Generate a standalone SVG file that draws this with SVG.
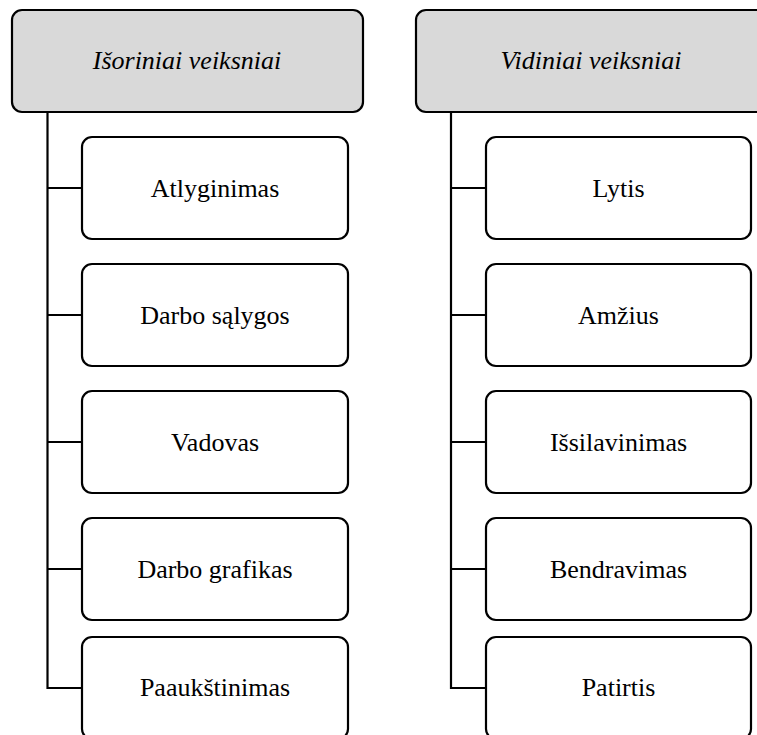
<svg xmlns="http://www.w3.org/2000/svg" width="757" height="735" viewBox="0 0 757 735">
<style>
.hdr{fill:#d9d9d9;stroke:#000;stroke-width:2.2}
.box{fill:#fff;stroke:#000;stroke-width:2.2}
.ht{font-family:"Liberation Serif","Times New Roman",serif;font-style:italic;font-size:26px;fill:#000;text-anchor:middle}
.bt{font-family:"Liberation Serif","Times New Roman",serif;font-size:26px;fill:#000;text-anchor:middle}
.ln{fill:none;stroke:#000;stroke-width:2.2}
</style>
<rect x="0" y="0" width="757" height="735" fill="#fff"/>
<g id="connectors">
<path class="ln" d="M47.5 112V688H82M47.5 188H82M47.5 315H82M47.5 442H82M47.5 569H82"/>
<path class="ln" d="M451 112V688H486M451 188H486M451 315H486M451 442H486M451 569H486"/>
</g>
<g id="h1"><rect class="hdr" x="12" y="10" width="351" height="102" rx="10"/><text class="ht" x="187" y="69">Išoriniai veiksniai</text></g>
<g id="h2"><rect class="hdr" x="416" y="10" width="351" height="102" rx="10"/><text class="ht" x="591" y="69">Vidiniai veiksniai</text></g>
<g id="l1"><rect class="box" x="82" y="137" width="266" height="102" rx="10"/><text class="bt" x="215" y="197">Atlyginimas</text></g>
<g id="l2"><rect class="box" x="82" y="264" width="266" height="102" rx="10"/><text class="bt" x="215" y="324">Darbo sąlygos</text></g>
<g id="l3"><rect class="box" x="82" y="391" width="266" height="102" rx="10"/><text class="bt" x="215" y="451">Vadovas</text></g>
<g id="l4"><rect class="box" x="82" y="518" width="266" height="102" rx="10"/><text class="bt" x="215" y="578">Darbo grafikas</text></g>
<g id="l5"><rect class="box" x="82" y="637" width="266" height="102" rx="10"/><text class="bt" x="215" y="696">Paaukštinimas</text></g>
<g id="r1"><rect class="box" x="486" y="137" width="265" height="102" rx="10"/><text class="bt" x="618.5" y="197">Lytis</text></g>
<g id="r2"><rect class="box" x="486" y="264" width="265" height="102" rx="10"/><text class="bt" x="618.5" y="324">Amžius</text></g>
<g id="r3"><rect class="box" x="486" y="391" width="265" height="102" rx="10"/><text class="bt" x="618.5" y="451">Išsilavinimas</text></g>
<g id="r4"><rect class="box" x="486" y="518" width="265" height="102" rx="10"/><text class="bt" x="618.5" y="578">Bendravimas</text></g>
<g id="r5"><rect class="box" x="486" y="637" width="265" height="102" rx="10"/><text class="bt" x="618.5" y="696">Patirtis</text></g>
</svg>
